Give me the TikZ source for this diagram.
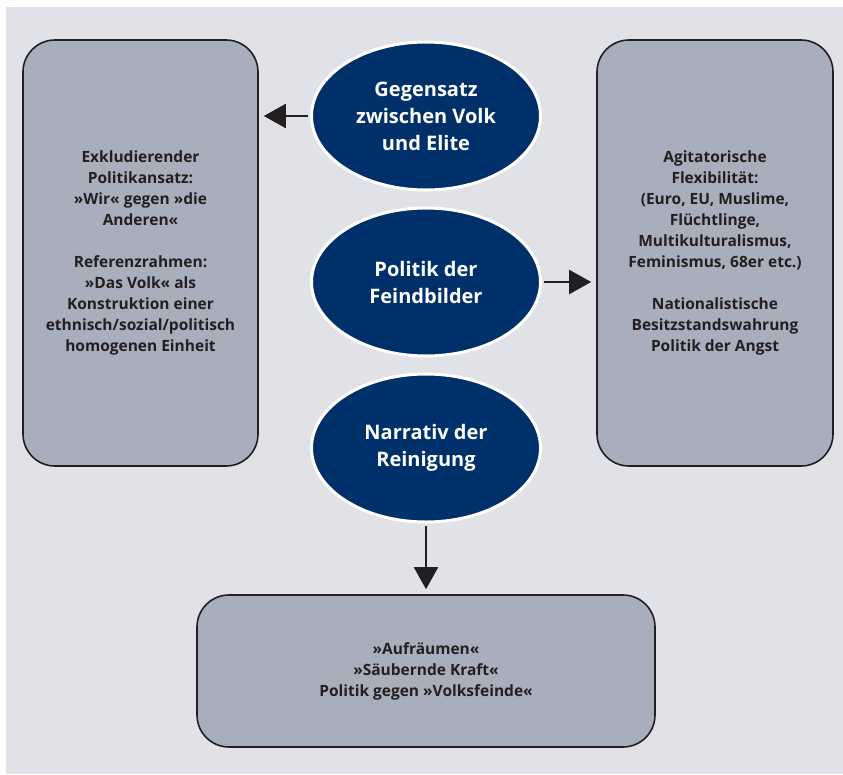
\documentclass[tikz,border=0pt]{standalone}
\usepackage{fontspec}
\setmainfont{Open Sans}
\usepackage{xcolor}
\usepackage{tikz}
\usetikzlibrary{shapes.geometric, arrows.meta}
\definecolor{customNavy}{HTML}{00306A}
\definecolor{customBox}{HTML}{A8AEBC}
\definecolor{customBack}{HTML}{E1E2E7}
\definecolor{customInk}{HTML}{231F20}

\begin{document}
\begin{tikzpicture} [
    x=1pt, y=-1pt,
    edge/.style={-{Triangle[length=22pt,width=24pt]}, line width=2pt, color=customInk, shorten >=5pt, shorten <=2pt},
    textBox/.style={rectangle, rounded corners=32pt, draw=customInk, line width=1.6pt, fill=customBox, align=center, text=customInk, font=\fontsize{15.5}{21}\selectfont\bfseries, inner sep=0pt},
    coreEllipse/.style={ellipse, draw=white, line width=3pt, fill=customNavy, align=center, text=white, font=\fontsize{20}{27}\selectfont\bfseries, minimum width=229pt, minimum height=148pt, inner sep=0pt}
]

\useasboundingbox (0, 0) rectangle (843, 774);
\fill[customBack] (6, 7) rectangle (843, 774);

\node[textBox, minimum width=235pt, minimum height=426pt] (exklusion) at (140.5, 253) {Exkludierender\\Politikansatz:\\»Wir« gegen »die\\Anderen«\\[21pt]Referenzrahmen:\\»Das Volk« als\\Konstruktion einer\\ethnisch/sozial/politisch\\homogenen Einheit};

\node[textBox, minimum width=236pt, minimum height=426pt] (flexibilitaet) at (715, 253) {Agitatorische\\Flexibilität:\\(Euro, EU, Muslime,\\Flüchtlinge,\\Multikulturalismus,\\Feminismus, 68er etc.)\\[21pt]Nationalistische\\Besitzstandswahrung\\Politik der Angst};

\node[coreEllipse] (volk_elite) at (426, 116) {Gegensatz\\zwischen Volk\\und Elite};

\node[coreEllipse] (feindbilder) at (426, 282) {Politik der\\Feindbilder};

\node[coreEllipse] (reinigung) at (426, 448) {Narrativ der\\Reinigung};

\node[textBox, minimum width=458pt, minimum height=152pt] (aufraeumen) at (426, 671) {»Aufräumen«\\»Säubernde Kraft«\\Politik gegen »Volksfeinde«};

\draw[edge] (volk_elite.west) -- (volk_elite.west -| exklusion.east);
\draw[edge] (feindbilder.east) -- (feindbilder.east -| flexibilitaet.west);
\draw[edge] (reinigung.south) -- (aufraeumen.north);

\end{tikzpicture}
\end{document}
